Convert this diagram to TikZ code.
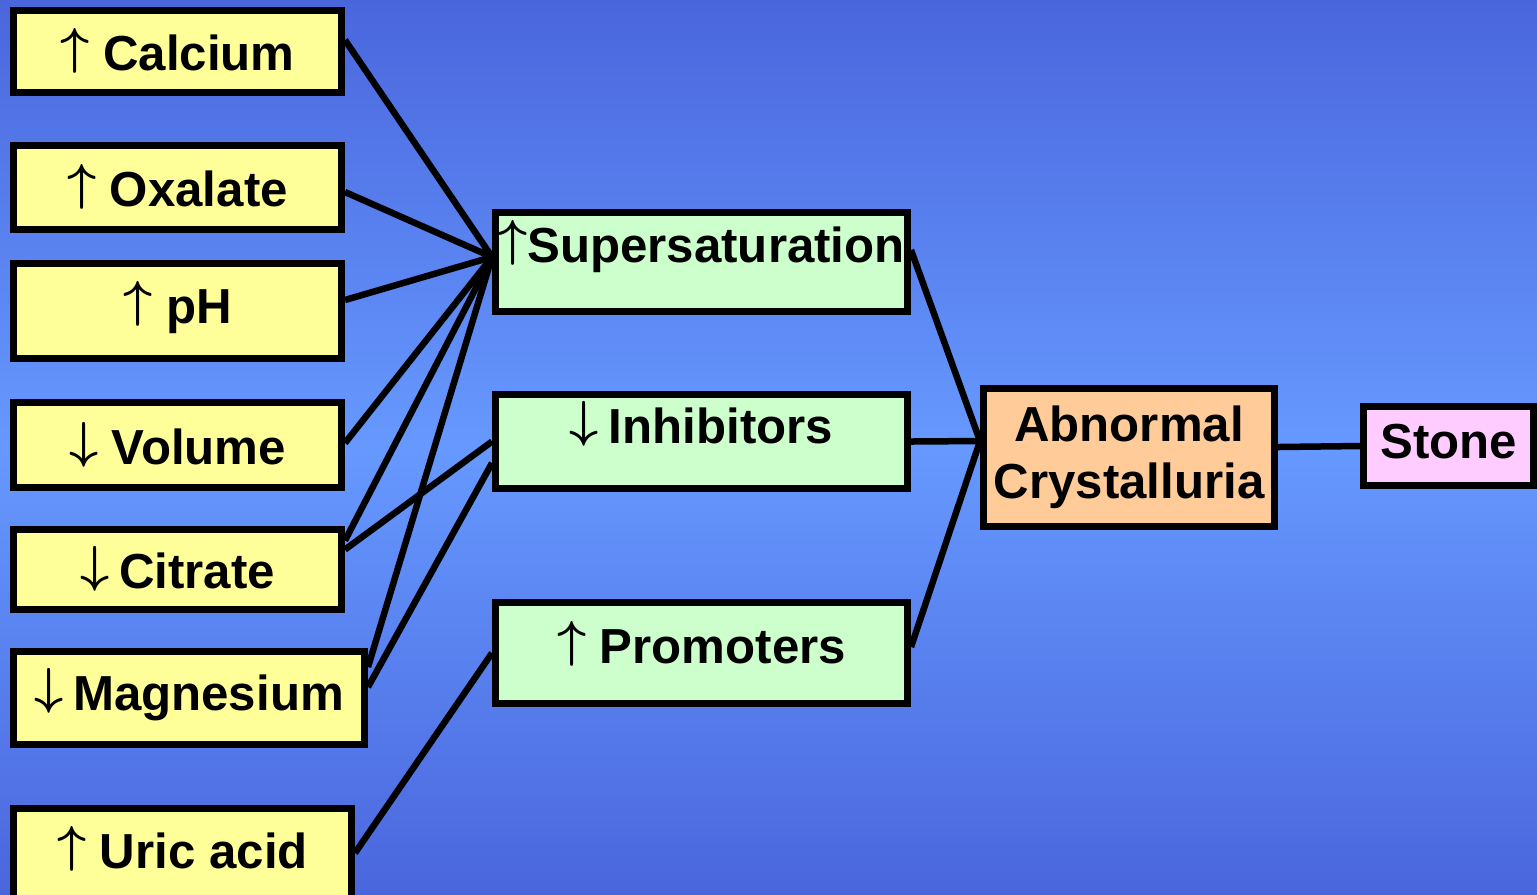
\documentclass[tikz,border=0pt]{standalone}
\usepackage{fontspec}
\setmainfont{Liberation Sans}
\usetikzlibrary{positioning, calc}
\definecolor{slidetop}{RGB}{74, 102, 221}
\definecolor{slidemid}{RGB}{102, 153, 255}
\definecolor{factorfill}{RGB}{255, 255, 153}
\definecolor{processfill}{RGB}{204, 255, 204}
\definecolor{crystalfill}{RGB}{255, 204, 153}
\definecolor{stonefill}{RGB}{255, 204, 255}
\newcommand{\incr}{\raisebox{0.14em}{\boldmath$\uparrow$}}
\newcommand{\decr}{\raisebox{0.14em}{\boldmath$\downarrow$}}

\begin{document}
\begin{tikzpicture}[
    every node/.style={font=\fontsize{14}{16.2}\selectfont\bfseries},
    factorbox/.style={rectangle, draw=black, fill=factorfill, line width=0.07cm, inner sep=0pt,
                      minimum width=3.28cm, minimum height=0.84cm, text height=0.38cm, text depth=0pt},
    processbox/.style={rectangle, draw=black, fill=processfill, line width=0.07cm, inner sep=0pt,
                       minimum width=4.12cm, text height=0.495cm, text depth=0.495cm},
    crystalbox/.style={rectangle, draw=black, fill=crystalfill, line width=0.07cm, inner sep=0pt,
                       minimum width=2.91cm, minimum height=1.38cm, align=center},
    stonebox/.style={rectangle, draw=black, fill=stonefill, line width=0.07cm, inner sep=0pt,
                     minimum width=1.70cm, minimum height=0.79cm, text height=0.38cm, text depth=0.14cm},
    conn/.style={line width=0.065cm, color=black}
]

% Background
\shade[top color=slidetop, bottom color=slidetop, middle color=slidemid] (0,0) rectangle (15.37,-8.94);
\useasboundingbox (0,0) rectangle (15.37,-8.94);

% Risk factors
\node[factorbox, minimum height=0.82cm] (calcium) at (1.775,-0.515) {\incr{} Calcium};
\node[factorbox] (oxalate) at (1.775,-1.875) {\incr{} Oxalate};
\node[factorbox, minimum height=0.95cm, text depth=0.14cm] (ph) at (1.775,-3.11) {\incr{} pH};
\node[factorbox, minimum height=0.85cm] (volume) at (1.775,-4.45) {\decr{} Volume};
\node[factorbox, minimum height=0.80cm] (citrate) at (1.775,-5.695) {\decr\hspace{.2em}Citrate};
\node[factorbox, minimum width=3.51cm, minimum height=0.93cm, text depth=0.14cm] (magnesium)
    at (1.89,-6.98) {\decr\hspace{.2em}Magnesium};
\node[factorbox, minimum width=3.38cm, minimum height=0.95cm, text depth=0.14cm] (uricacid)
    at (1.825,-8.56) {\incr{} Uric acid};

% Processes
\node[processbox] (super) at (7.015,-2.62) {\incr Supersaturation};
\node[processbox, text height=0.485cm, text depth=0.455cm] (inhib) at (7.015,-4.415)
    {\decr\hspace{.2em}Inhibitors};
\node[processbox, text height=0.605cm, text depth=0.405cm] (promo) at (7.015,-6.53)
    {\incr{} Promoters};

% Outcome
\node[crystalbox] (crystal) at (11.29,-4.575) {Abnormal\\Crystalluria};
\node[stonebox] (stone) at (14.485,-4.46) {Stone};

% Meeting points
\coordinate (superin) at ([yshift=0.05cm]super.west);
\coordinate (crystin) at ([yshift=0.165cm]crystal.west);

% Factor connectors
\draw[conn] ([yshift=0.115cm]calcium.east) -- (superin);
\draw[conn] ([yshift=-0.045cm]oxalate.east) -- (superin);
\draw[conn] ([yshift=0.11cm]ph.east) -- (superin);
\draw[conn] ([yshift=0.02cm]volume.east) -- (superin);
\draw[conn] ([yshift=0.29cm]citrate.east) -- (superin);
\draw[conn] ([yshift=0.2cm]citrate.east) -- (inhib.west);
\draw[conn] ([yshift=0.31cm]magnesium.east) -- (superin);
\draw[conn] ([yshift=0.11cm]magnesium.east) -- ([yshift=-0.215cm]inhib.west);
\draw[conn] ([yshift=0.03cm]uricacid.east) -- (promo.west);

% Process connectors
\draw[conn] ([yshift=0.12cm]super.east) -- (crystin);
\draw[conn] (inhib.east) -- (crystin);
\draw[conn] ([yshift=0.06cm]promo.east) -- (crystin);
\draw[conn] ([yshift=0.105cm]crystal.east) -- (stone.west);

\end{tikzpicture}
\end{document}
